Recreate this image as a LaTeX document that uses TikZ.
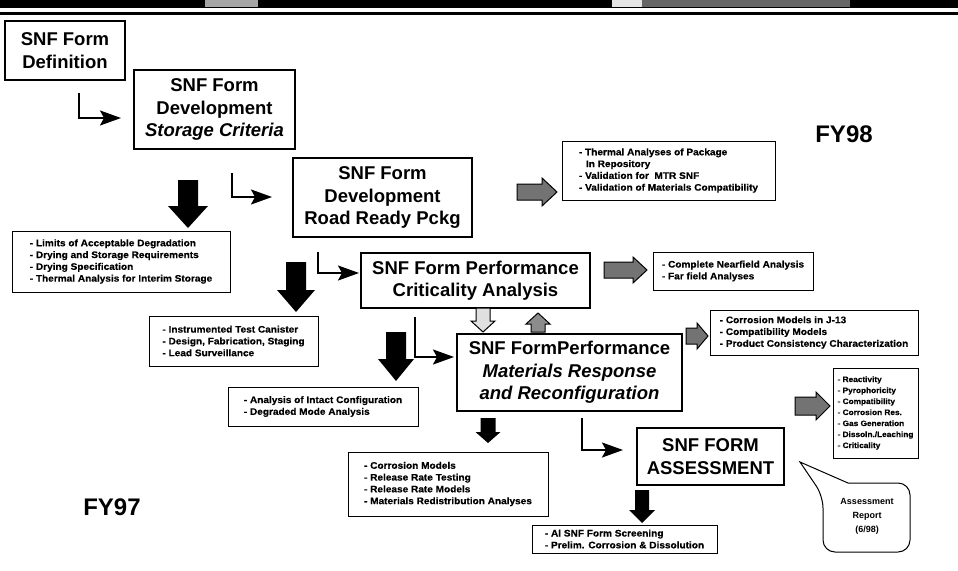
\documentclass[tikz,border=0pt]{standalone}
\usepackage{fontspec}
\setmainfont{Liberation Sans}
\newfontfamily\listfont{Liberation Sans}[UprightFont={* Bold}, FakeStretch=1.06, FakeBold=0.4]
\usetikzlibrary{arrows.meta}

% block arrow pointing down (or up, with a negative head length)
% #1 style, #2 centre x, #3 tail y, #4 tip y, #5 shaft half width, #6 head half width, #7 head length
\newcommand{\downblock}[7]{%
  \path[#1] ({#2-(#5)},#3) -- ({#2+(#5)},#3) -- ({#2+(#5)},{#4-(#7)}) -- ({#2+(#6)},{#4-(#7)})
    -- (#2,#4) -- ({#2-(#6)},{#4-(#7)}) -- ({#2-(#5)},{#4-(#7)}) -- cycle;}
% block arrow pointing right
% #1 style, #2 centre y, #3 tail x, #4 tip x, #5 shaft half height, #6 head half height, #7 head length
\newcommand{\rightblock}[7]{%
  \path[#1] (#3,{#2-(#5)}) -- ({#4-(#7)},{#2-(#5)}) -- ({#4-(#7)},{#2-(#6)}) -- (#4,#2)
    -- ({#4-(#7)},{#2+(#6)}) -- ({#4-(#7)},{#2+(#5)}) -- (#3,{#2+(#5)}) -- cycle;}

\begin{document}
\begin{tikzpicture}[x=1pt,y=-1pt,
  mainbox/.style={draw=black, line width=1.2pt, align=center, inner sep=0pt,
    font=\bfseries\fontsize{18.5}{22.5}\selectfont},
  listbox/.style={draw=black, line width=1pt, align=left, inner sep=0pt,
    font=\listfont\fontsize{9.5}{11.8}\selectfont},
  elbow/.style={line width=2pt, -{Stealth[length=21pt,width=15pt,inset=4pt]}},
  solidarrow/.style={fill=black},
  grayarrow/.style={draw=black, line width=1pt, fill=black!55},
  lightarrow/.style={draw=black, line width=1pt, fill=black!12},
  midarrow/.style={draw=black, line width=1pt, fill=black!45},
  yearlabel/.style={font=\bfseries\fontsize{24}{28}\selectfont},
  calltext/.style={align=center, inner sep=0pt, font=\bfseries\fontsize{9}{14}\selectfont}]

\useasboundingbox (0,0) rectangle (958,570);
\fill[white] (0,0) rectangle (958,570);

% header rule
\fill[black] (0,0) rectangle (958,8);
\fill[black!35] (205,0) rectangle (258,7);
\fill[black!10] (612,0) rectangle (642,7);
\fill[black!60] (642,0) rectangle (850,7);
\fill[black] (0,12) rectangle (958,15);

% main stage boxes
\node[mainbox, minimum width=120, minimum height=59] (def) at (65,50.5) {SNF Form\\Definition};
\node[mainbox, minimum width=161, minimum height=79] (store) at (214.5,109.5)
  {SNF Form\\Development\\\textit{Storage Criteria}};
\node[mainbox, minimum width=179, minimum height=79] (road) at (382.5,197.5)
  {SNF Form\\Development\\Road Ready Pckg};
\node[mainbox, minimum width=229, minimum height=55] (crit) at (475.5,280.5)
  {SNF Form Performance\\Criticality Analysis};
\node[mainbox, minimum width=225, minimum height=77] (mat) at (569.5,372.5)
  {SNF FormPerformance\\\textit{Materials Response}\\\textit{and Reconfiguration}};
\node[mainbox, minimum width=147, minimum height=57] (assess) at (710.5,456.5)
  {SNF FORM\\ASSESSMENT};

% task lists
\node[listbox, minimum width=213, minimum height=59] (thermal) at (668.5,170.5)
  {- Thermal Analyses of Package\\\hspace*{7pt}In Repository\\- Validation for\ \ MTR SNF\\- Validation of Materials Compatibility};
\node[listbox, minimum width=218, minimum height=61] (limits) at (121,261.5)
  {- Limits of Acceptable Degradation\\- Drying and Storage Requirements\\- Drying Specification\\- Thermal Analysis for Interim Storage};
\node[listbox, minimum width=169, minimum height=50] (canister) at (233.5,341)
  {- Instrumented Test Canister\\- Design, Fabrication, Staging\\- Lead Surveillance};
\node[listbox, minimum width=190, minimum height=39] (intact) at (323,406.5)
  {- Analysis of Intact Configuration\\- Degraded Mode Analysis};
\node[listbox, minimum width=160, minimum height=38] (near) at (733,271)
  {- Complete Nearfield Analysis\\- Far field Analyses};
\node[listbox, minimum width=208, minimum height=45] (jthirteen) at (814,332.5)
  {- Corrosion Models in J-13\\- Compatibility Models\\- Product Consistency Characterization};
\node[listbox, minimum width=200, minimum height=64] (corr) at (448,484)
  {- Corrosion Models\\- Release Rate Testing\\- Release Rate Models\\- Materials Redistribution Analyses};
\node[listbox, minimum width=185, minimum height=28] (screen) at (624.5,539)
  {- Al SNF Form Screening\\- Prelim. Corrosion \& Dissolution};
\node[listbox, minimum width=85, minimum height=90, font=\listfont\fontsize{7.8}{11}\selectfont] (react) at (875.5,413)
  {- Reactivity\\- Pyrophoricity\\- Compatibility\\- Corrosion Res.\\- Gas Generation\\- Dissoln./Leaching\\- Criticality};

% report callout
\draw[line width=1pt, rounded corners=12] (848,483) -- (910,483) -- (910,552) -- (823,552) -- (823,496)
  [sharp corners] -- (800,462) -- cycle;
\node[calltext] (report) at (867,516) {Assessment\\Report\\(6/98)};

% year labels
\node[yearlabel] (fy98) at (844,134) {FY98};
\node[yearlabel] (fy97) at (112,507) {FY97};

% elbow connectors
\coordinate (e1a) at (79,93);   \coordinate (e1b) at (121,118);
\coordinate (e2a) at (232,173); \coordinate (e2b) at (272,197);
\coordinate (e3a) at (318,252); \coordinate (e3b) at (359,273);
\coordinate (e4a) at (415,317); \coordinate (e4b) at (454,357);
\coordinate (e5a) at (582,418); \coordinate (e5b) at (623,450);
\draw[elbow] (e1a) |- (e1b);
\draw[elbow] (e2a) |- (e2b);
\draw[elbow] (e3a) |- (e3b);
\draw[elbow] (e4a) |- (e4b);
\draw[elbow] (e5a) |- (e5b);

% solid block arrows down to the task lists
\downblock{solidarrow}{188}{180}{228}{10}{20}{22}
\downblock{solidarrow}{296}{262}{312}{10}{19}{22}
\downblock{solidarrow}{396}{332}{381}{10}{18}{22}
\downblock{solidarrow}{488}{418}{443}{7.5}{12.5}{11}
\downblock{solidarrow}{642}{490}{523}{7}{13}{13}

% shaded block arrows to the right-hand lists
\rightblock{grayarrow}{192}{517}{557}{8}{14}{15}
\rightblock{grayarrow}{270}{604}{647}{8}{13}{14}
\rightblock{grayarrow}{336}{686}{708}{8}{13}{11}
\rightblock{grayarrow}{406}{795}{830}{9}{14}{14}

% exchange between criticality and materials response
\downblock{lightarrow}{483}{308}{332}{7}{12}{11}
\downblock{midarrow}{538}{332}{313}{7}{12}{-11}

\end{tikzpicture}
\end{document}
